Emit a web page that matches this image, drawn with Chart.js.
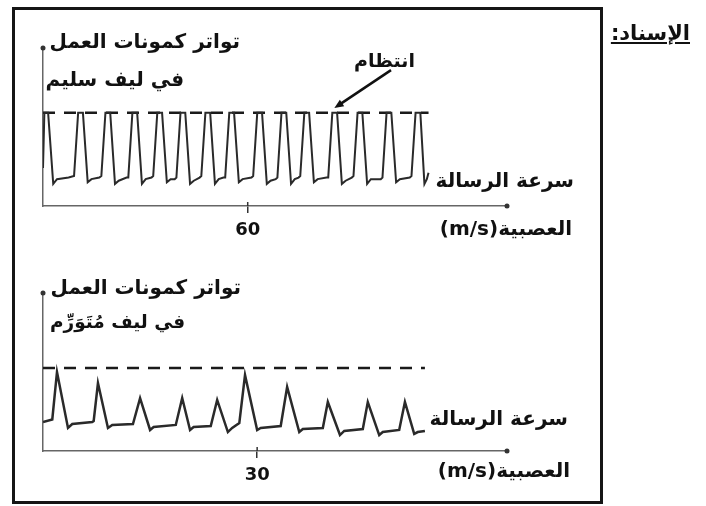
<!DOCTYPE html>
<html lang="ar">
<head>
<meta charset="utf-8">
<script src="https://cdn.jsdelivr.net/npm/chart.js@4.4.1/dist/chart.umd.min.js"></script>
<style>
  body { margin: 0; background: #fff; }
  #page { position: relative; width: 706px; height: 506px; overflow: hidden;
          font-family: "DejaVu Sans", sans-serif; font-weight: bold; color: #111; }
  #frame { position: absolute; left: 12px; top: 7px; width: 585px; height: 491px; border: 3px solid #151515; }
  .lbl { position: absolute; direction: rtl; white-space: nowrap; font-size: 20px; line-height: 24px; }
  .cv { position: absolute; left: 0; }
</style>
</head>
<body>
<div id="page">
  <div id="frame"></div>
  <canvas id="healthy" class="cv" width="706" height="250" style="top:0"></canvas>
  <canvas id="swollen" class="cv" width="706" height="250" style="top:245px"></canvas>

  <div class="lbl" style="right:16px; top:21px; font-size:21px; text-decoration:underline;">الإسناد:</div>

  <div class="lbl" style="right:466px; top:29px;">تواتر كمونات العمل</div>
  <div class="lbl" style="right:522px; top:67px;">في ليف سليم</div>
  <div class="lbl" style="right:291px; top:48px; font-size:19px;">انتظام</div>
  <div class="lbl" style="right:132px; top:168px;">سرعة الرسالة</div>
  <div class="lbl" style="right:134px; top:216px;">العصبية<bdi dir="ltr">(m/s)</bdi></div>

  <div class="lbl" style="right:465px; top:275px;">تواتر كمونات العمل</div>
  <div class="lbl" style="right:521px; top:310px; font-size:18.5px;">في ليف مُتَوَرِّم</div>
  <div class="lbl" style="right:138px; top:406px;">سرعة الرسالة</div>
  <div class="lbl" style="right:136px; top:458px;">العصبية<bdi dir="ltr">(m/s)</bdi></div>
</div>

<script>
// healthy fibre: regular train of action potentials
let healthyX = [
  0, 0.4, 1.5, 3.0, 4.1, 7.5,
  9.1, 10.3, 11.7, 13.1, 14.2, 16.5,
  17.1, 18.3, 19.7, 21.1, 22.2, 24.5,
  25.0, 26.2, 27.6, 29.0, 30.1, 31.8,
  32.3, 33.5, 34.9, 36.3, 37.4, 38.6,
  39.1, 40.3, 41.7, 43.1, 44.2, 45.9,
  46.4, 47.6, 49.0, 50.4, 51.5, 52.9,
  53.4, 54.6, 56.0, 57.4, 58.5, 61.1,
  61.6, 62.8, 64.2, 65.6, 66.7, 68.2,
  68.7, 69.9, 71.3, 72.7, 73.8, 74.9,
  75.4, 76.6, 78.0, 79.4, 80.5, 83.1,
  83.6, 84.8, 86.2, 87.6, 88.7, 90.5,
  91.0, 92.2, 93.6, 95.0, 96.1, 99.0,
  99.5, 100.7, 102.1, 103.5, 104.6, 107.5,
  108.0, 109.2, 110.6, 111.8, 112.5, 113.0
];
let healthyY = [
  24, 59, 59, 14, 17, 18,
  19, 59, 59, 15, 17, 18,
  19, 59, 59, 14, 16, 18,
  18, 59, 59, 14, 17, 18,
  19, 59, 59, 15, 17, 17,
  18, 59, 59, 14, 16, 18,
  19, 59, 59, 14, 17, 18,
  18, 59, 59, 15, 17, 18,
  19, 59, 59, 14, 16, 17,
  18, 59, 59, 14, 17, 18,
  19, 59, 59, 15, 17, 18,
  18, 59, 59, 14, 16, 18,
  19, 59, 59, 14, 17, 17,
  18, 59, 59, 15, 17, 18,
  19, 59, 59, 14, 17, 21
];
let healthyLevel = 59;
let healthyLevelEnd = 113;
let healthyTick = 60;
let healthyMax = 136;

// swollen fibre: fewer, irregular action potentials
let swollenX = [
  0, 1.3, 1.96, 3.5, 4.1, 6.9,
  7.1, 7.7, 9.1, 9.7,
  12.6, 13.6, 15.0, 15.5,
  18.6, 19.5, 20.6, 21.1,
  23.5, 24.4, 25.9, 26.5,
  27.5, 28.3, 30.0, 30.5,
  33.3, 34.2, 35.9, 36.4,
  39.2, 39.9, 41.6, 42.2,
  44.8, 45.5, 47.1, 47.6,
  49.9, 50.7, 52.0, 52.5, 53.5
];
let swollenY = [
  18.4, 20, 50, 14.6, 17.1, 18.4,
  19, 43, 14.6, 16.5,
  17.1, 33.5, 13.3, 15.2,
  16.5, 33.5, 13.3, 15.2,
  15.8, 32.3, 12, 14.6,
  17.7, 48.1, 13.3, 14.6,
  15.8, 40.5, 12, 13.9,
  14.6, 31, 10.1, 12.7,
  13.9, 31, 10.1, 12,
  13.3, 31, 10.8, 12, 12.7
];
let swollenLevel = 52.5;
let swollenLevelEnd = 53.5;
let swollenTick = 30;
let swollenMax = 65;

// arrow that points at one pulse top ("انتظام")
let regularityArrow = { from: { x: 102, y: 86 }, to: { x: 85.4, y: 62 } };

const axisDecor = {
  id: "axisDecor",
  afterDraw(chart, args, opts) {
    const ctx = chart.ctx;
    const a = chart.chartArea;
    const sx = chart.scales.x, sy = chart.scales.y;
    ctx.save();
    ctx.fillStyle = "#333";
    ctx.beginPath(); ctx.arc(a.left, a.top, 2.5, 0, Math.PI * 2); ctx.fill();
    ctx.beginPath(); ctx.arc(a.right, a.bottom, 2.5, 0, Math.PI * 2); ctx.fill();
    // tick mark pokes a little above the axis too
    ctx.strokeStyle = "#333";
    ctx.lineWidth = 1.5;
    sx.ticks.forEach((t) => {
      const px = sx.getPixelForValue(t.value);
      ctx.beginPath(); ctx.moveTo(px, a.bottom - 4); ctx.lineTo(px, a.bottom); ctx.stroke();
    });
    if (opts.arrow) {
      const x1 = sx.getPixelForValue(opts.arrow.from.x), y1 = sy.getPixelForValue(opts.arrow.from.y);
      const x2 = sx.getPixelForValue(opts.arrow.to.x), y2 = sy.getPixelForValue(opts.arrow.to.y);
      const ang = Math.atan2(y2 - y1, x2 - x1);
      ctx.strokeStyle = "#111";
      ctx.fillStyle = "#111";
      ctx.lineWidth = 2.5;
      ctx.beginPath();
      ctx.moveTo(x1, y1);
      ctx.lineTo(x2 - 7 * Math.cos(ang), y2 - 7 * Math.sin(ang));
      ctx.stroke();
      ctx.beginPath();
      ctx.moveTo(x2, y2);
      ctx.lineTo(x2 - 10 * Math.cos(ang - 0.4), y2 - 10 * Math.sin(ang - 0.4));
      ctx.lineTo(x2 - 10 * Math.cos(ang + 0.4), y2 - 10 * Math.sin(ang + 0.4));
      ctx.closePath();
      ctx.fill();
    }
    ctx.restore();
  }
};

function pts(xs, ys) {
  return xs.map((x, i) => ({ x: x, y: ys[i] }));
}

function makeChart(id, xs, ys, level, levelEnd, tick, xMax, arrow, lineW) {
  return new Chart(id, {
    type: "line",
    data: {
      datasets: [
        {
          data: pts(xs, ys),
          borderColor: "#2a2a2a",
          borderWidth: lineW,
          pointRadius: 0,
          tension: 0,
        },
        {
          data: [{ x: 0, y: level }, { x: levelEnd, y: level }],
          borderColor: "#1a1a1a",
          borderWidth: 2.5,
          borderDash: [12, 9],
          pointRadius: 0,
        },
      ],
    },
    options: {
      responsive: false,
      animation: false,
      layout: { padding: { left: 43, right: 199, top: 48, bottom: 14 } },
      plugins: {
        legend: { display: false },
        tooltip: { enabled: false },
        axisDecor: { arrow: arrow },
      },
      scales: {
        x: {
          type: "linear",
          min: 0,
          max: xMax,
          afterBuildTicks: (s) => { s.ticks = [{ value: tick }]; },
          afterFit: (s) => { s.height = 30; },
          grid: { display: true, drawOnChartArea: false, drawTicks: true, tickLength: 7, color: "#333", lineWidth: 1.5 },
          border: { display: true, color: "#666", width: 1.5 },
          ticks: { color: "#111", padding: 7, maxRotation: 0, font: { family: "DejaVu Sans", weight: "bold", size: 18 } },
        },
        y: {
          min: 0,
          max: 100,
          afterFit: (s) => { s.width = 0; },
          grid: { display: false },
          ticks: { display: false },
          border: { display: true, color: "#666", width: 1.5 },
        },
      },
    },
    plugins: [axisDecor],
  });
}

makeChart("healthy", healthyX, healthyY, healthyLevel, healthyLevelEnd, healthyTick, healthyMax, regularityArrow, 2);
makeChart("swollen", swollenX, swollenY, swollenLevel, swollenLevelEnd, swollenTick, swollenMax, null, 2.5);
</script>
</body>
</html>
